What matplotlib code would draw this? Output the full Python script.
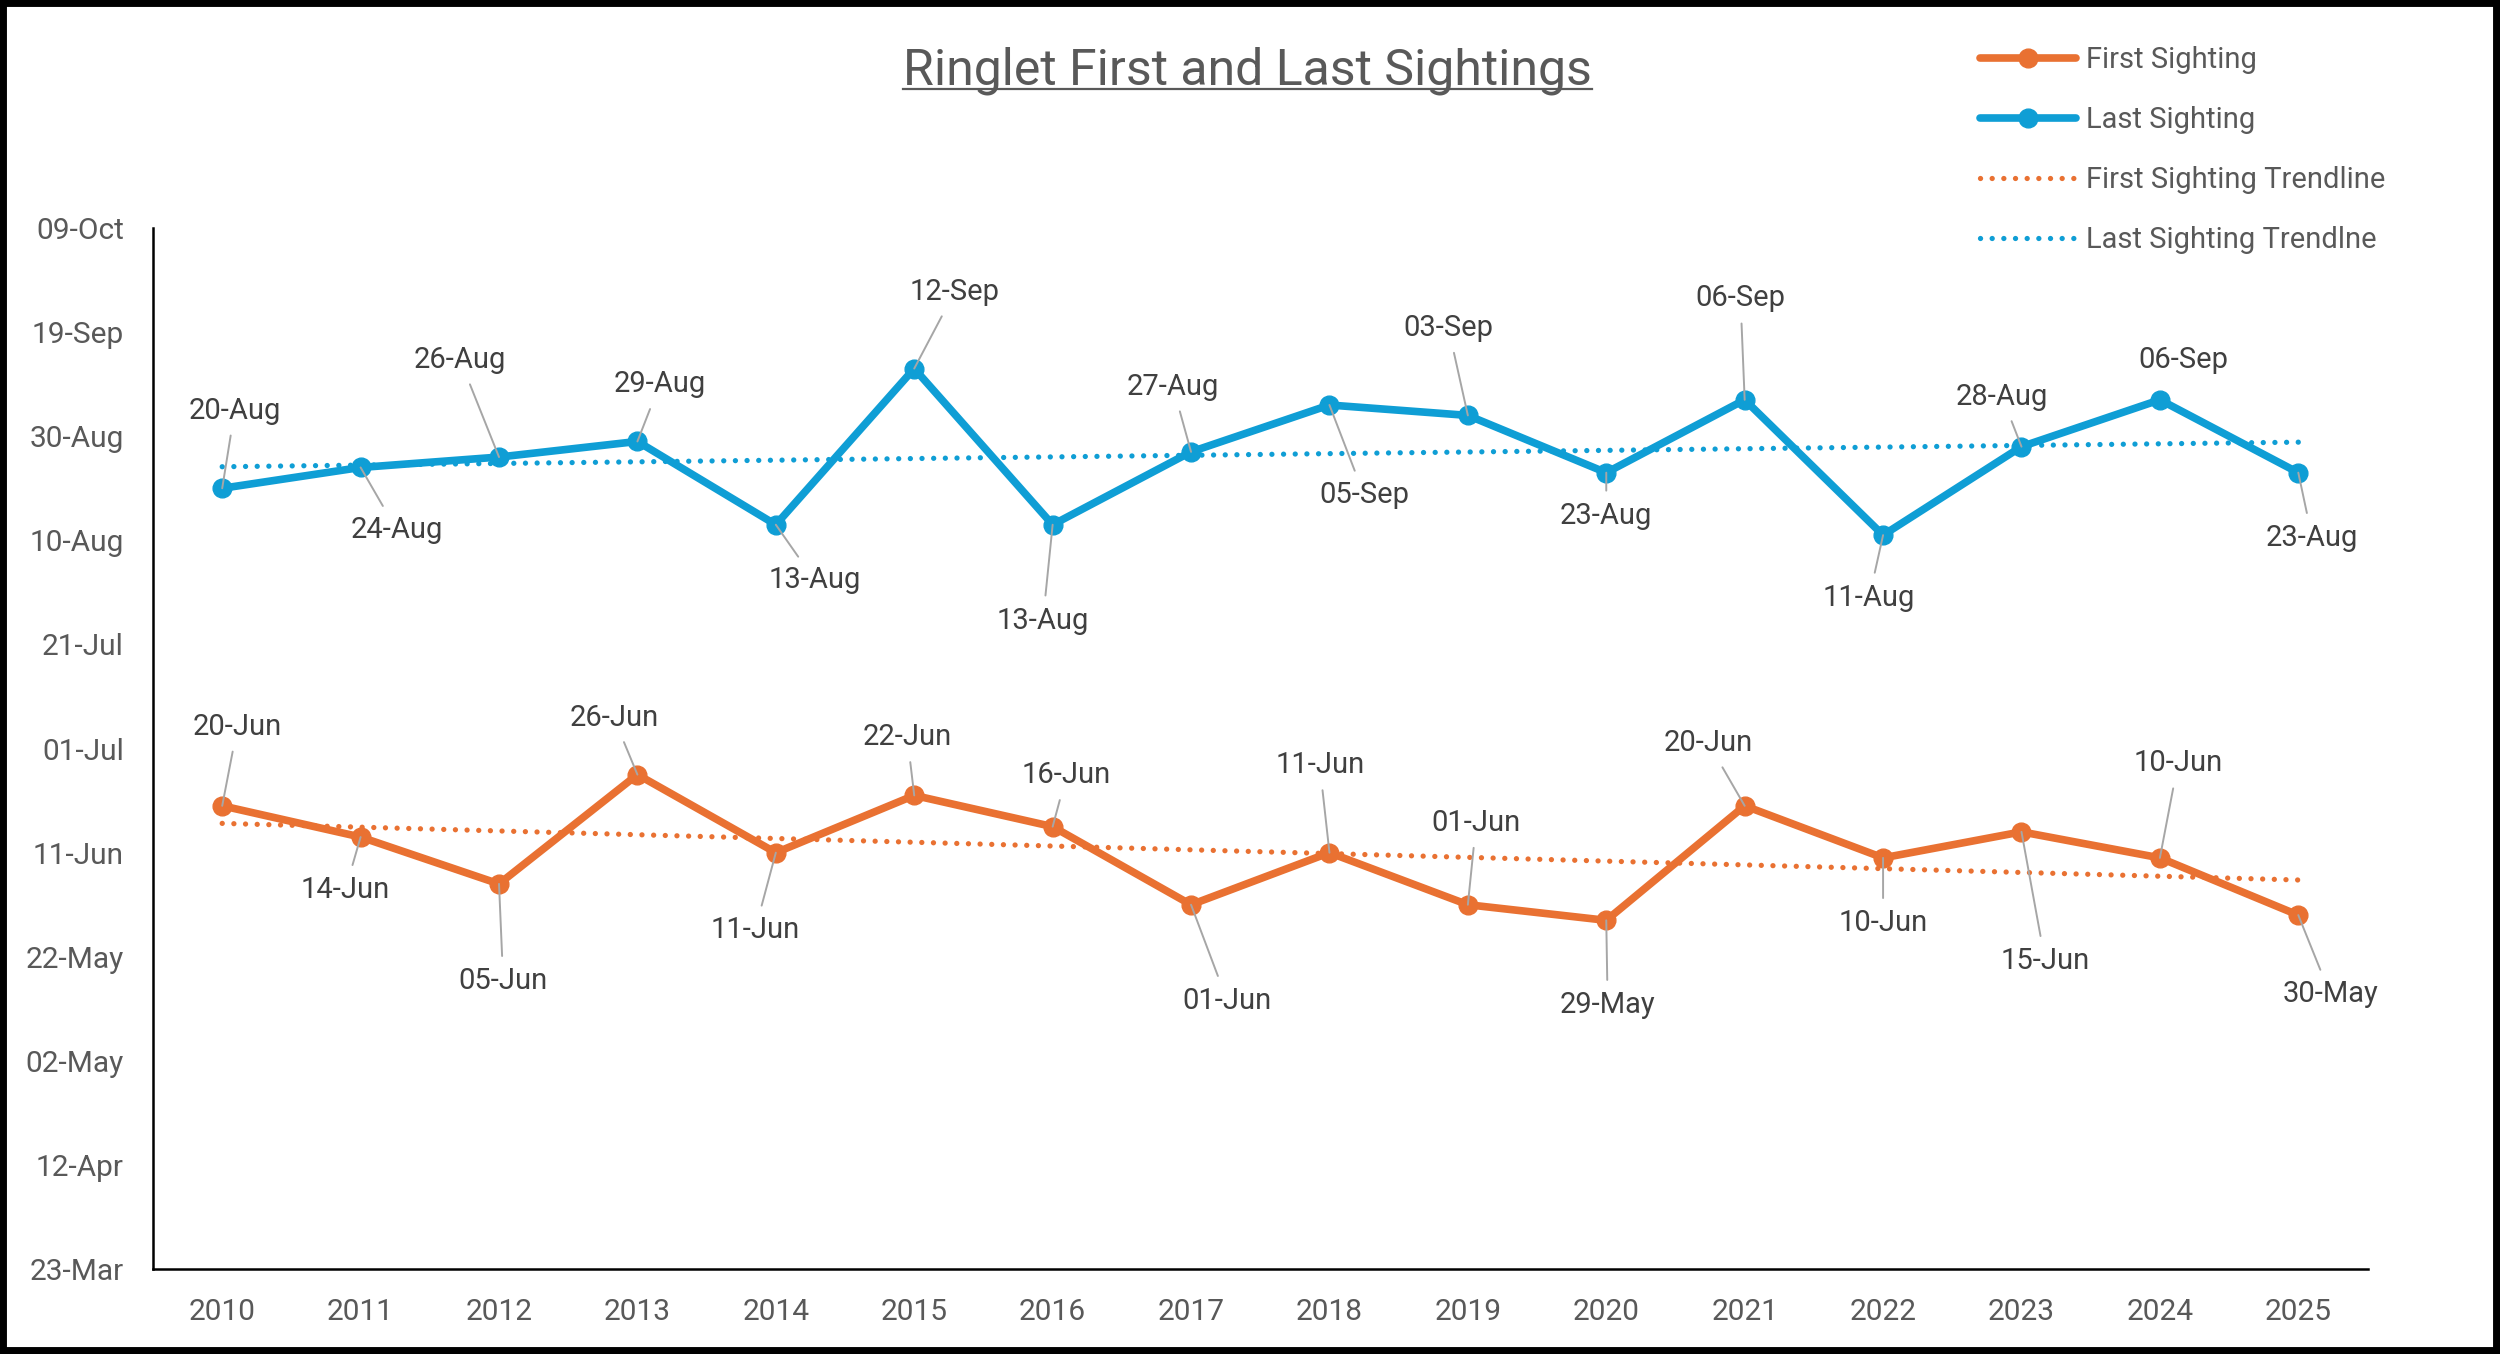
import datetime as dt
import numpy as np
import matplotlib
matplotlib.use("Agg")
import matplotlib.pyplot as plt
import matplotlib.dates as mdates
from matplotlib.lines import Line2D
from matplotlib.patches import Rectangle

plt.rcParams['font.family'] = ['Roboto', 'DejaVu Sans']

# data (day-month, year-agnostic)
years = list(range(2010, 2026))
first_sighting = ["20-Jun", "14-Jun", "05-Jun", "26-Jun", "11-Jun", "22-Jun", "16-Jun", "01-Jun",
                  "11-Jun", "01-Jun", "29-May", "20-Jun", "10-Jun", "15-Jun", "10-Jun", "30-May"]
last_sighting = ["20-Aug", "24-Aug", "26-Aug", "29-Aug", "13-Aug", "12-Sep", "13-Aug", "27-Aug",
                 "05-Sep", "03-Sep", "23-Aug", "06-Sep", "11-Aug", "28-Aug", "06-Sep", "23-Aug"]
y_start = "23-Mar"
y_end = "09-Oct"
y_step_days = 20

# label offsets (points) relative to each marker
first_offsets = [(11, 57), (-11, -38), (3, -70), (-17, 41), (-15, -56), (-5, 42), (10, 37), (26, -69),
                 (-7, 63), (6, 59), (1, -61), (-26, 45), (0, -47), (17, -93), (13, 68), (23, -57)]
last_offsets = [(9, 56), (26, -45), (-28, 70), (16, 41), (28, -40), (29, 55), (-7, -69), (-13, 47),
                (25, -65), (-14, 63), (0, -31), (-3, 73), (-10, -45), (-14, 36), (17, 29), (10, -47)]
last_no_leader = [2024]

ORANGE = "#E97132"
BLUE = "#0F9ED5"
GREY_TXT = "#595959"
LABEL_TXT = "#404040"
LEADER = "#A6A6A6"


def to_num(s):
    return mdates.date2num(dt.datetime.strptime(s + "-2025", "%d-%b-%Y"))


x = np.arange(len(years))
first_y = np.array([to_num(s) for s in first_sighting])
last_y = np.array([to_num(s) for s in last_sighting])

fig = plt.figure(figsize=(25, 13.54), dpi=100)
ax = fig.add_axes([0.0612, 0.0627, 0.8858, 0.7689])

l_first, = ax.plot(x, first_y, color=ORANGE, lw=5.5, marker="o", ms=13.5, zorder=3,
                   solid_capstyle="round", solid_joinstyle="round")
l_last, = ax.plot(x, last_y, color=BLUE, lw=5.5, marker="o", ms=13.5, zorder=3,
                  solid_capstyle="round", solid_joinstyle="round")

# linear trendlines
dots = (0, (0.01, 2.2))
trends = []
for ys, col in [(first_y, ORANGE), (last_y, BLUE)]:
    k, b = np.polyfit(x, ys, 1)
    xt = np.array([x[0], x[-1]])
    t, = ax.plot(xt, k * xt + b, color=col, lw=3.8, linestyle=dots,
                 dash_capstyle="round", zorder=4)
    trends.append(t)

# data labels with leader lines
for ys, labels, offs, skip in [(first_y, first_sighting, first_offsets, []),
                               (last_y, last_sighting, last_offsets, last_no_leader)]:
    for i, (yv, lab, off) in enumerate(zip(ys, labels, offs)):
        arrow = None
        if years[i] not in skip:
            arrow = dict(arrowstyle="-", color=LEADER, lw=1.4, shrinkA=6, shrinkB=0)
        ax.annotate(lab, xy=(x[i], yv), xytext=off, textcoords="offset points",
                    ha="center", va="center", fontsize=21, color=LABEL_TXT,
                    arrowprops=arrow, zorder=5)

ymin, ymax = to_num(y_start), to_num(y_end)
ax.set_ylim(ymin, ymax)
ax.set_xlim(-0.5, len(years) - 0.5)
ax.yaxis.set_major_locator(matplotlib.ticker.FixedLocator(np.arange(ymin, ymax + 1, y_step_days)))
ax.yaxis.set_major_formatter(mdates.DateFormatter("%d-%b"))
ax.set_xticks(x)
ax.set_xticklabels([str(y) for y in years])
ax.tick_params(axis="y", length=0, pad=21, labelsize=21.5, labelcolor=GREY_TXT)
ax.tick_params(axis="x", length=0, pad=21, labelsize=21.5, labelcolor=GREY_TXT)
for side in ["top", "right"]:
    ax.spines[side].set_visible(False)
for side in ["left", "bottom"]:
    ax.spines[side].set_linewidth(1.8)
    ax.spines[side].set_color("black")

fig.legend([l_first, l_last, trends[0], trends[1]],
           ["First Sighting", "Last Sighting", "First Sighting Trendline", "Last Sighting Trendlne"],
           loc="upper left", bbox_to_anchor=(0.792, 0.966), frameon=False, fontsize=21,
           handlelength=3.3, handletextpad=0.35, labelspacing=1.1, borderpad=0,
           borderaxespad=0, labelcolor=GREY_TXT)

# title with underline
title_y = 0.9376
title = fig.text(0.499, title_y, "Ringlet First and Last Sightings", ha="center", va="baseline",
                 fontsize=36, color=GREY_TXT)
fig.canvas.draw()
bb = title.get_window_extent().transformed(fig.transFigure.inverted())
uy = title_y - 5 / 1354
fig.add_artist(Line2D([bb.x0, bb.x1], [uy, uy], transform=fig.transFigure, color=GREY_TXT, lw=1.6))

# outer frame
fig.add_artist(Rectangle((0, 0), 1, 1, transform=fig.transFigure, fill=False,
                         ec="black", lw=10, clip_on=False))

fig.savefig("out.png", dpi=100)
